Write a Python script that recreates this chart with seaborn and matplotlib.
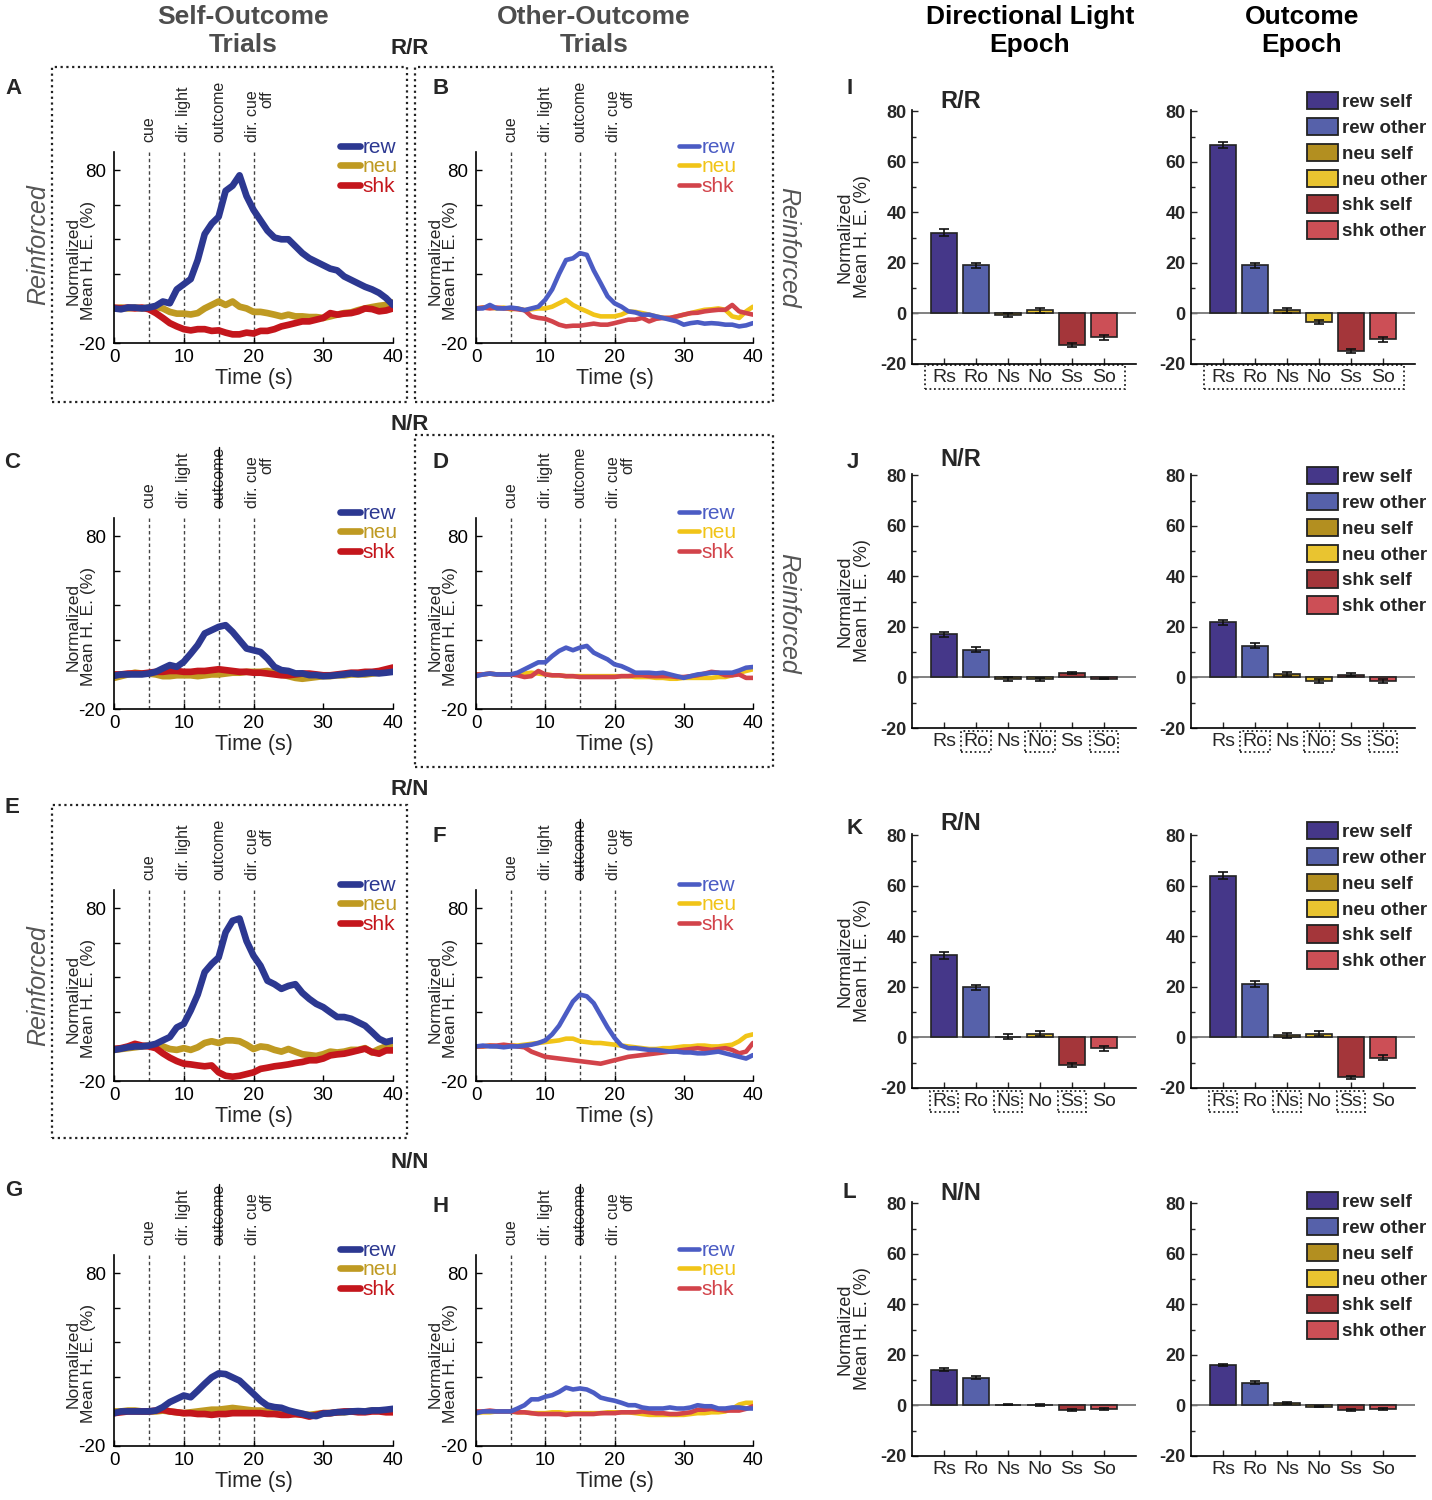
import matplotlib
matplotlib.use('Agg')
import matplotlib.pyplot as plt
import seaborn as sns
from matplotlib.lines import Line2D
from matplotlib.patches import Patch, Rectangle

W, H = 1432, 1500

# ---- trace data (1 s steps) ----
time_s = list(range(41))

A_rew = [0, -0.5, 0.5, 0.5, 0, 0.5, 1.5, 4, 3, 11, 14, 17, 28, 43, 49, 53, 68, 71, 77, 65,
         57, 51, 45, 41, 40, 40, 36, 32, 29, 27, 25, 23, 22, 18.5, 16.5, 14.5, 12.5, 11, 9, 6, 2]
A_neu = [0, 0.5, 0, 0.5, 0, 0.5, 1, 0, -2, -3, -3, -3.5, -2.7, 0, 2, 4, 2, 4, 1, 0,
         -2, -2, -2.7, -3.6, -4.6, -3.6, -4.6, -4.6, -5, -5, -5.5, -4.6, -3.6, -2.7, -2.3, -1, 0, 0.8, 1.5, 2, 3.5]
A_shk = [0.5, 0, 0.5, 0, 0.5, -0.5, -2.7, -5.5, -8.5, -10.4, -12, -12.7, -12, -12, -13, -12.7, -14, -15, -15, -14,
         -14.5, -13, -13, -12, -10.4, -9.5, -8.5, -7.5, -7.5, -6.5, -5.5, -2.7, -3.6, -3, -2.7, -1.7, 0, -0.4, -1.7, -1.2, 0]

B_rew = [0, 0, 2, 0, 0, 0.5, 0, -1, 0, 1, 5, 11, 20, 28, 29, 32, 31, 22, 14.6, 7,
         3, 1, -1.7, -2.3, -3.6, -3.6, -4.6, -5.5, -6.5, -7.5, -9.4, -8.5, -8, -8.8, -8.5, -8.8, -9.4, -9.4, -10.4, -9.8, -8.5]
B_neu = [0, 0.5, 0.5, 0, 0.5, -0.5, 0, -1, -0.5, 0, 0, 1, 3, 5, 2, 0, -1.7, -3.6, -4.6, -4.6,
         -4.6, -3.6, -1.7, -2, -2.7, -3.6, -4.6, -5.5, -5.5, -4.6, -3.6, -2.7, -1.7, -0.8, -0.5, 0, -0.8, -4.6, -5.5, -1.7, 1]
B_shk = [0, 0.5, 0, 0.5, 0, 0, -0.5, -1, -4.6, -5.5, -6, -7.5, -9.4, -10.4, -10, -10, -9.4, -8.8, -9.4, -9.4,
         -8.5, -7.5, -6.5, -6.5, -5.5, -7.5, -6, -5.5, -5.5, -4.6, -3.6, -2.7, -2.5, -1.7, -1.2, -0.8, -0.8, 2, -1.7, -2.7, -3.6]

C_rew = [-0.8, 0, 0, 0, 0, 0.5, 1.5, 3.5, 5.4, 4.4, 7.3, 12, 17, 23.7, 25.6, 27.5, 28.5, 24.6, 19.8, 15,
         14, 13, 9.2, 4.4, 2.5, 2, 0.6, 0.6, -0.4, -0.4, -1, -0.8, -0.4, 0, 0.6, 0.2, 0.6, 1, 0.6, 1, 1.5]
C_neu = [-2, -1, 0, 1, 0.5, 0.5, 0, -1, -1, -0.5, -0.5, -0.5, -1, -0.5, 0, 0, 0.5, 1, 1, 1.5,
         1.5, 1.5, 2, 1, 0, -1, -2, -2.5, -2, -1.5, -1, -1, -0.5, -0.5, 0, 0, 0, 0.5, 1, 1.5, 3]
C_shk = [0, 0, 0.5, 0.5, 0.5, 1, 1.5, 1.5, 2, 2, 1.5, 1.5, 2, 2, 2.5, 3, 2.5, 2, 1.5, 1.5,
         1, 1, 0.5, 0, -0.5, -0.5, 0, 0.5, 0.5, 0, -0.5, -0.5, 0, 0.5, 1, 1, 1.5, 1.5, 2, 3, 4]

D_rew = [-1, 0, 0.5, 0, 0, 0, 1, 3, 5, 7, 7, 10.6, 13.6, 15.5, 14, 15.5, 16.5, 12.6, 10.6, 8.7,
         5.8, 4.8, 3, 1, 1, 1, 0.6, 1, 0, -1, -2, -1, 0, 0.4, 1, 1, 1, 1, 2.3, 3.9, 4.3]
D_neu = [0, 0, 0.5, 0, 0, 0, 0, 0.5, 1, 0.5, 0, -0.5, -0.5, -1, -1, -1, -1, -1, -1, -1,
         -1, -1, -1, -1.5, -1.5, -1.5, -2, -2, -2.5, -2.5, -2, -2, -2, -2, -2, -1.5, -1.5, -0.5, 1, 2, 3]
D_shk = [0, 0, 0.5, 0, 0, 0, -0.5, -1.5, -1, 2, 0, -0.5, -0.5, -1, -1, -1.5, -1.5, -1.5, -1.5, -1.5,
         -1.5, -1, -1, -0.5, -0.5, -1, -1, -1, -1, -1.5, -1.5, -1, -0.5, 0.5, 1.5, 1, -0.5, -0.5, 0, -2, -2]

E_rew = [-2, -1.3, -0.5, 0, 0, 0.5, 1.5, 3.5, 5.4, 11, 13, 20.8, 30, 43, 47.7, 51.5, 66, 72.7, 74, 61,
         52.5, 46.7, 38, 36, 33.3, 35, 36, 31, 27.5, 24.6, 22.7, 19.8, 17, 17, 16, 14, 12, 8.3, 4.4, 2.5, 3.5]
E_neu = [-2, -1.5, -1, -0.5, 0, 0.5, 1, 0, -1.5, -2, -1, -2, -0.5, 2, 3, 2, 3.5, 3.5, 3, 1,
         -1.5, 0, -0.5, -2, -3, -1.5, -3, -4.5, -5, -5.5, -4.5, -3, -3.5, -3, -2, -2, -1, -3.5, -1.5, 0, 0.5]
E_shk = [-1.5, -1, 0, 1.5, 0.5, 0, -1, -4, -6.5, -8.5, -10, -10.4, -11, -11.5, -11, -15, -17, -17.5, -17, -16,
         -15, -13, -12.3, -11.5, -11, -10.4, -9.6, -9, -8, -8, -7, -5.2, -4.6, -4.2, -3.3, -2.3, -1.3, -3.3, -4.2, -2.3, -2.3]

F_rew = [0, 0.5, 0, 0, -0.5, 0, 0, 0.5, 1, 2, 3.5, 7, 12, 19, 26, 30, 29, 25, 18, 11,
         5, 0.5, -1, -1, -1.5, -2, -2, -2.5, -3, -3, -3.5, -3.5, -4, -4, -3.5, -3, -4, -5, -6, -7, -5]
F_neu = [0, 0, 0.5, 0, 0, 0.5, 0.5, 1, 1.5, 2, 2.5, 3, 3.5, 4.5, 4.5, 3, 2.5, 2, 2, 1.5,
         1, 0.5, 0, -0.5, -1, -1.5, -1.5, -1, -1, -0.5, 0, 0, 0.5, 0.5, 0, 0, 0.5, 1, 3, 6, 7]
F_shk = [0, 0, 0.5, 0.5, 1, 0.5, 0, -0.5, -3, -4.5, -6, -6.5, -7, -7.5, -8, -8.5, -9, -9.5, -10, -9,
         -8, -7, -6, -5.5, -5, -4.5, -4, -3.5, -3, -2.5, -2, -1.5, -1, -1.5, -2, -1.5, -1, -2, -4, -3, 2]

G_rew = [-1, 0, 0, 0, 0, 0, 0.5, 2.5, 5.4, 7.3, 9.2, 8.2, 12, 16, 19.7, 22, 21.6, 19.7, 17.8, 14,
         10.2, 6.3, 3.4, 2.5, 2.1, 0.6, -0.4, -1.3, -2.3, -2.7, -1.3, -1, -0.4, -0.4, 0, 0.2, 0, 0.6, 0.6, 1, 1.5]
G_neu = [0, 0, 0.5, 0.5, 0, 0, 0, 0.5, 0, -0.5, -1, -0.5, 0, 0.5, 1, 1, 1.5, 2, 1.5, 1,
         0.5, 0.5, 0, 0, -0.5, -1, -1.5, -1.5, -2, -1.5, -1, -1, -0.5, -0.5, 0, 0, 0, 0.5, 0.5, 0.5, 1]
G_shk = [-1, -0.5, 0, 0, 0, 0, 0.5, 1, 0, -0.5, -1, -1, -1.5, -1.5, -2, -1.5, -1.5, -1, -1, -1,
         -1, -1, -1.5, -1.5, -2, -2, -1.5, -2, -3, -2, -1, -1, -0.5, 0, 0, -0.5, -0.5, 0, 0, -0.5, -0.5]

H_rew = [-1, 0, 0, 0, 0, 0, 1.7, 3.6, 7, 7, 8.5, 9.4, 11.3, 13.8, 12.7, 13.3, 12.7, 10.8, 8, 7,
         6.2, 5, 3.6, 3.6, 2.3, 1.7, 1.7, 1.7, 2.3, 1.7, 1.7, 2.3, 3.6, 3, 3, 1.7, 1.7, 2.3, 2.3, 1.7, 1.7]
H_neu = [-1, -0.5, -0.5, 0, 0, 0, -0.5, -0.5, -1, -1, -1, -0.5, -0.5, -1, -1, -1, -1, -1, -1, -0.5,
         -0.5, -0.5, -0.5, -1, -1.5, -2, -2, -2, -2, -2, -2, -1.5, -1, -1, -0.5, -0.5, 0, 1.5, 4, 5, 5]
H_shk = [0, 0, 0.5, 0, 0, 0, -0.5, -0.5, -1, -1.5, -1.5, -1.5, -1.5, -2, -1.5, -1.5, -1.5, -1.5, -1, -1,
         -1, -0.5, -0.5, -0.5, 0, -0.5, -1, -1, -1.5, -1.5, -1, -0.5, 1, 1, 1.5, 1, 0.5, 0.5, 0.5, 1.5, 3]

event_times = [5, 10, 15, 20]
event_labels = ['cue', 'dir. light', 'outcome', 'dir. cue\noff']

# ---- bar data ----
bar_labels = ['Rs', 'Ro', 'Ns', 'No', 'Ss', 'So']
legend_labels = ['rew self', 'rew other', 'neu self', 'neu other', 'shk self', 'shk other']
bar_colors = ['#453789', '#5661aa', '#b38f20', '#e9c430', '#a4363a', '#cc4f56']

light_rr = [32, 19, -0.8, 1.2, -12.5, -9.5]
light_rr_err = [1.3, 0.9, 0.8, 0.9, 0.7, 0.9]
outcome_rr = [66.8, 19, 1.2, -3.5, -14.8, -10.3]
outcome_rr_err = [1.2, 0.9, 0.9, 0.8, 0.8, 0.9]
light_nr = [17, 11, -0.5, -0.8, 1.8, -0.5]
light_nr_err = [0.9, 0.9, 0.8, 0.5, 0.5, 0.3]
outcome_nr = [21.8, 12.5, 1.2, -1.3, 1.0, -1.5]
outcome_nr_err = [1.0, 1.0, 0.8, 0.8, 0.6, 0.8]
light_rn = [32.5, 19.8, 0.3, 1.5, -11, -4.3]
light_rn_err = [1.3, 1.1, 1.0, 0.9, 0.8, 0.9]
outcome_rn = [64, 21.2, 0.8, 1.5, -15.8, -8]
outcome_rn_err = [1.3, 1.1, 0.9, 0.9, 0.6, 0.9]
light_nn = [14.2, 11, 0.3, 0.2, -1.8, -1.5]
light_nn_err = [0.5, 0.6, 0.3, 0.3, 0.3, 0.3]
outcome_nn = [16, 9, 0.8, -0.5, -1.8, -1.5]
outcome_nn_err = [0.5, 0.6, 0.4, 0.2, 0.3, 0.3]

SELF = {'rew': '#2c3891', 'neu': '#bf9a22', 'shk': '#c4161c'}
OTHER = {'rew': '#4b5cc4', 'neu': '#f1c418', 'shk': '#d2434a'}

sns.set_style('ticks', {'xtick.direction': 'in', 'ytick.direction': 'in'})
plt.rcParams['font.family'] = ['Liberation Sans', 'DejaVu Sans']
plt.rcParams['axes.unicode_minus'] = False

fig = plt.figure(figsize=(W / 100, H / 100), dpi=100)


def px_axes(x0, y0, x1, y1):
    return fig.add_axes([x0 / W, 1 - y1 / H, (x1 - x0) / W, (y1 - y0) / H])


def ftext(x, y, s, **kw):
    return fig.text(x / W, 1 - y / H, s, **kw)


def dotted_box(x0, y0, x1, y1):
    fig.add_artist(Rectangle((x0 / W, 1 - y1 / H), (x1 - x0) / W, (y1 - y0) / H,
                             transform=fig.transFigure, fill=False, ec='#222',
                             lw=1.6, ls=(0, (1, 1.6))))


struck = []


def trace_panel(ax, traces, colors, lw, strike, leg_right):
    for name in ['neu', 'shk', 'rew']:
        sns.lineplot(x=time_s, y=traces[name], color=colors[name], linewidth=lw,
                     ax=ax, label=name, solid_joinstyle='round')
    for t in event_times:
        ax.axvline(t, color='#444', lw=1, ls=(0, (2.5, 2)), zorder=0)
    for t, lab in zip(event_times, event_labels):
        dx = 4.5 if '\n' in lab else 0
        txt = ax.annotate(lab, xy=(t, 1), xycoords=ax.get_xaxis_transform(),
                          xytext=(dx, 7), textcoords='offset points', rotation=90,
                          ha='center', va='bottom', fontsize=11.5, multialignment='right',
                          linespacing=0.95, annotation_clip=False)
        if strike and lab == 'outcome':
            struck.append(txt)
    ax.set_xlim(0, 40)
    ax.set_ylim(-20, 90.5)
    ax.set_xticks([0, 10, 20, 30, 40])
    ax.set_yticks([-20, 0, 20, 40, 60, 80])
    ax.set_yticklabels(['-20', '', '', '', '', '80'])
    ax.tick_params(axis='both', labelsize=13.5, length=4, width=1, colors='k')
    ax.tick_params(axis='y', pad=6)
    ax.tick_params(axis='x', pad=4)
    ax.set_xlabel('Time (s)', fontsize=15.5, labelpad=2)
    ax.set_ylabel('Normalized\nMean H. E. (%)', fontsize=12.5, linespacing=1.05)
    ax.yaxis.set_label_coords(-0.065, 0.43)
    for sp in ['left', 'bottom']:
        ax.spines[sp].set_linewidth(1.2)
        ax.spines[sp].set_color('k')
    sns.despine(ax=ax)
    h, l = ax.get_legend_handles_labels()
    order = [l.index(n) for n in ['rew', 'neu', 'shk']]
    bb = ax.get_position()
    leg = ax.legend([h[i] for i in order], [l[i] for i in order], loc='upper right',
                    bbox_to_anchor=(leg_right / W, bb.y1 + 14 / H), bbox_transform=fig.transFigure,
                    frameon=False, fontsize=15, handlelength=0.95, handletextpad=0.15,
                    labelspacing=0.02, borderpad=0, borderaxespad=0)
    for txt, n in zip(leg.get_texts(), ['rew', 'neu', 'shk']):
        txt.set_color(colors[n])


def bar_panel(ax, vals, errs, ylabel, boxed, box_all, legend_top):
    pal = dict(zip(bar_labels, bar_colors))
    sns.barplot(x=bar_labels, y=vals, hue=bar_labels, palette=pal, legend=False, ax=ax,
                edgecolor='#222', linewidth=1.2, width=0.8, saturation=1, zorder=2)
    ax.errorbar(range(6), vals, yerr=errs, fmt='none', ecolor='#111', elinewidth=1.2,
                capsize=3.5, capthick=1.2, zorder=3)
    ax.axhline(0, color='#777', lw=1.3, zorder=1)
    ax.set_xlim(-1, 6)
    ax.set_ylim(-20, 80.5)
    ax.set_yticks([-20, 0, 20, 40, 60, 80])
    ax.set_yticks([-10, 10, 30, 50, 70], minor=True)
    ax.tick_params(axis='y', which='major', length=4, width=1, pad=4)
    ax.tick_params(axis='y', which='minor', length=3, width=1)
    ax.tick_params(axis='x', length=4, width=1, pad=3.5, labelsize=14)
    for lab in ax.get_yticklabels():
        lab.set_fontweight('bold')
        lab.set_fontsize(13)
    for lab in ax.get_xticklabels():
        if lab.get_text() in boxed:
            lab.set_bbox(dict(boxstyle='square,pad=0.12', fc='none', ec='#222',
                              lw=1.3, ls=(0, (1, 1.5))))
    if box_all:
        ax.add_patch(Rectangle((-0.6, -0.1), 6.25, 0.095, transform=ax.get_xaxis_transform(),
                               clip_on=False, fill=False, ec='#222', lw=1.3, ls=(0, (1, 1.5))))
    ax.set_xlabel('')
    if ylabel:
        ax.set_ylabel('Normalized\nMean H. E. (%)', fontsize=13, linespacing=1.05)
        ax.yaxis.set_label_coords(-0.183, 0.5)
    for sp in ['left', 'bottom']:
        ax.spines[sp].set_linewidth(1.2)
        ax.spines[sp].set_color('k')
    sns.despine(ax=ax)
    if legend_top is not None:
        handles = [Patch(fc=c, ec='#222', lw=1.3) for c in bar_colors]
        ax.legend(handles, legend_labels, loc='upper left',
                  bbox_to_anchor=(1307 / W, 1 - legend_top / H), bbox_transform=fig.transFigure,
                  frameon=False, prop={'weight': 'bold', 'size': 13.5},
                  handlelength=1.65, handleheight=1.05, handletextpad=0.2,
                  labelspacing=0.36, borderpad=0, borderaxespad=0)


# ---- trace panels ----
rows = [(152, 343), (518, 709), (890, 1081), (1255, 1446)]
cols = [(114, 393), (476, 753)]
trace_sets = [
    ({'rew': A_rew, 'neu': A_neu, 'shk': A_shk}, 0, 0, False),
    ({'rew': B_rew, 'neu': B_neu, 'shk': B_shk}, 0, 1, False),
    ({'rew': C_rew, 'neu': C_neu, 'shk': C_shk}, 1, 0, True),
    ({'rew': D_rew, 'neu': D_neu, 'shk': D_shk}, 1, 1, False),
    ({'rew': E_rew, 'neu': E_neu, 'shk': E_shk}, 2, 0, False),
    ({'rew': F_rew, 'neu': F_neu, 'shk': F_shk}, 2, 1, True),
    ({'rew': G_rew, 'neu': G_neu, 'shk': G_shk}, 3, 0, True),
    ({'rew': H_rew, 'neu': H_neu, 'shk': H_shk}, 3, 1, True),
]
for traces, r, c, strike in trace_sets:
    ax = px_axes(cols[c][0], rows[r][0], cols[c][1], rows[r][1])
    if c == 0:
        trace_panel(ax, traces, SELF, 4.8, strike, 398)
    else:
        trace_panel(ax, traces, OTHER, 3.3, strike, 737)

# ---- bar panels ----
bar_rows = [110, 474, 834, 1202]
bar_sets = [
    (light_rr, light_rr_err, outcome_rr, outcome_rr_err, [], True, 92),
    (light_nr, light_nr_err, outcome_nr, outcome_nr_err, ['Ro', 'No', 'So'], False, 467),
    (light_rn, light_rn_err, outcome_rn, outcome_rn_err, ['Rs', 'Ns', 'Ss'], False, 822),
    (light_nn, light_nn_err, outcome_nn, outcome_nn_err, [], False, 1192),
]
for top, (lv, le, ov, oe, boxed, box_all, ltop) in zip(bar_rows, bar_sets):
    ax_l = px_axes(912, top, 1136, top + 254)
    bar_panel(ax_l, lv, le, True, boxed, box_all, None)
    ax_r = px_axes(1191, top, 1415, top + 254)
    bar_panel(ax_r, ov, oe, False, boxed, box_all, ltop)

# ---- figure annotations ----
ftext(243, 31, 'Self-Outcome\nTrials', ha='center', va='center', fontsize=19,
      fontweight='bold', color='#4d4d4d', linespacing=1.25)
ftext(594, 31, 'Other-Outcome\nTrials', ha='center', va='center', fontsize=19,
      fontweight='bold', color='#4d4d4d', linespacing=1.25)
ftext(1030, 31, 'Directional Light\nEpoch', ha='center', va='center', fontsize=19,
      fontweight='bold', color='k', linespacing=1.25)
ftext(1302, 31, 'Outcome\nEpoch', ha='center', va='center', fontsize=19,
      fontweight='bold', color='k', linespacing=1.25)

for s, y in [('R/R', 48), ('N/R', 425), ('R/N', 790), ('N/N', 1162)]:
    ftext(410, y, s, ha='center', va='center', fontsize=16, fontweight='bold')

for s, x, y in [('A', 5, 88), ('B', 432, 88), ('C', 4, 463), ('D', 432, 463),
                ('E', 5, 808), ('F', 432, 836), ('G', 5, 1190), ('H', 432, 1207),
                ('I', 847, 88), ('J', 847, 463), ('K', 847, 829), ('L', 842, 1192)]:
    ftext(x, y, s, ha='left', va='center', fontsize=16, fontweight='bold')

for s, y in [('R/R', 101), ('N/R', 459), ('R/N', 823), ('N/N', 1194)]:
    ftext(961, y, s, ha='center', va='center', fontsize=17, fontweight='bold')

for x, y, rot in [(38, 245, 90), (788, 247, 270), (788, 613, 270), (38, 986, 90)]:
    ftext(x, y, 'Reinforced', ha='center', va='center', rotation=rot, fontsize=18,
          style='italic', color='#555555')

dotted_box(52, 67, 407, 402)
dotted_box(415, 67, 773, 402)
dotted_box(415, 435, 773, 767)
dotted_box(52, 805, 407, 1138)

# strike through the "outcome" labels of the non-reinforced panels
fig.canvas.draw()
renderer = fig.canvas.get_renderer()
for txt in struck:
    bb = txt.get_window_extent(renderer)
    cx = (bb.x0 + bb.x1) / 2 / W
    fig.add_artist(Line2D([cx, cx], [bb.y0 / H, bb.y1 / H], transform=fig.transFigure,
                          color='k', lw=1))

fig.savefig('out.png', dpi=100)
